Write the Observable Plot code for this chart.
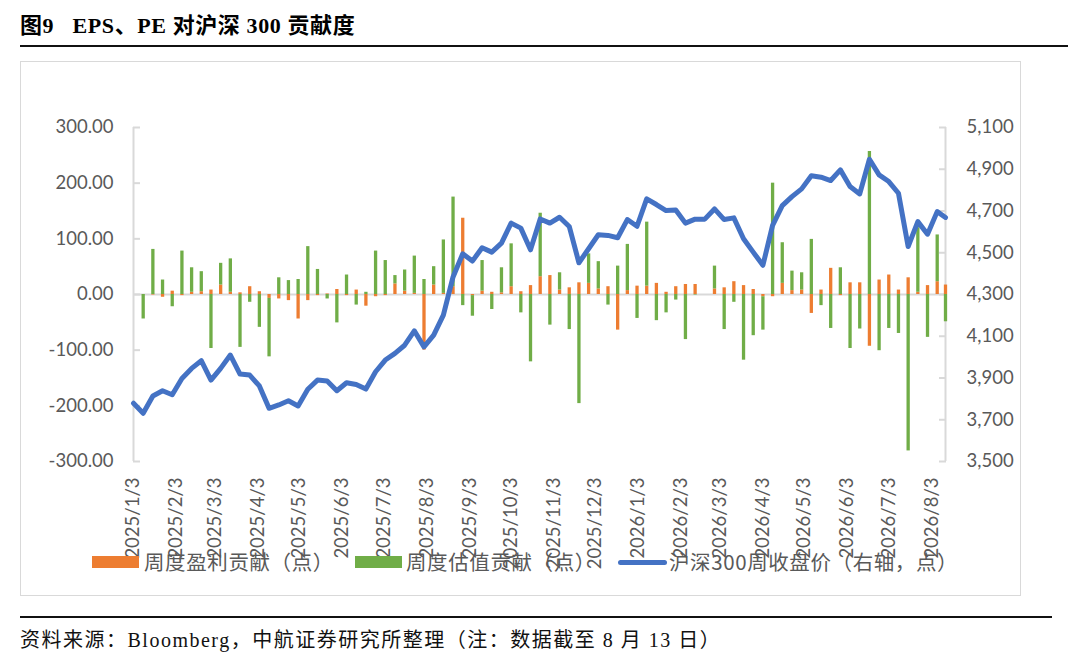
<!DOCTYPE html>
<html>
<head>
<meta charset="utf-8">
<script src="https://cdn.jsdelivr.net/npm/d3@7"></script>
<script src="https://cdn.jsdelivr.net/npm/@observablehq/plot@0.6"></script>
<style>
  body { margin: 0; background: #fff; }
  #page { position: relative; width: 1080px; height: 659px; overflow: hidden; background: #fff; }
  #title { position: absolute; left: 20px; top: 7px; font-family: "Liberation Serif", "Noto Sans CJK SC", serif; font-weight: bold; font-size: 22px; letter-spacing: 0.6px; color: #000; white-space: pre; }
  #rule-top { position: absolute; left: 20px; top: 45px; width: 1048px; height: 2px; background: #111; }
  #box { position: absolute; left: 20px; top: 61px; width: 1001px; height: 535px; box-sizing: border-box; border: 1.5px solid #d9d9d9; }
  #chart { position: absolute; left: 20px; top: 61px; }
  .leg { position: absolute; top: 548px; font-family: "Noto Sans CJK SC", sans-serif; font-size: 20.5px; letter-spacing: 0.6px; color: #595959; white-space: pre; line-height: 27px; }
  .sw { position: absolute; }
  #rule-bot { position: absolute; left: 20px; top: 616px; width: 1032px; height: 1.5px; background: #111; }
  #caption { position: absolute; left: 20px; top: 624px; font-family: "Liberation Serif", "Noto Sans CJK SC", serif; font-size: 20px; letter-spacing: 1.5px; color: #111; white-space: pre; }
</style>
</head>
<body>
<div id="page">
  <div id="title">图9   EPS、PE 对沪深 300 贡献度</div>
  <div id="rule-top"></div>
  <div id="box"></div>
  <div id="chart"></div>
  <div class="sw" style="left:92px;top:556px;width:47px;height:12px;background:#ED7D31"></div>
  <div class="leg" style="left:144px">周度盈利贡献（点）</div>
  <div class="sw" style="left:355px;top:556px;width:47px;height:12px;background:#70AD47"></div>
  <div class="leg" style="left:406px">周度估值贡献（点）</div>
  <div class="sw" style="left:618px;top:559.5px;width:49px;height:5px;background:#4472C4;border-radius:2.5px"></div>
  <div class="leg" style="left:669px">沪深300周收盘价（右轴，点）</div>
  <div id="rule-bot"></div>
  <div id="caption">资料来源：Bloomberg，中航证券研究所整理（注：数据截至 8 月 13 日）</div>
</div>
<script>
// ---- data ----
const dates = [
  "2025-01-03","2025-01-10","2025-01-17","2025-01-24","2025-01-31",
  "2025-02-07","2025-02-14","2025-02-21","2025-02-28",
  "2025-03-07","2025-03-14","2025-03-21","2025-03-28",
  "2025-04-04","2025-04-11","2025-04-18","2025-04-25",
  "2025-05-02","2025-05-09","2025-05-16","2025-05-23","2025-05-30",
  "2025-06-06","2025-06-13","2025-06-20","2025-06-27",
  "2025-07-04","2025-07-11","2025-07-18","2025-07-25",
  "2025-08-01","2025-08-08","2025-08-15","2025-08-22","2025-08-29",
  "2025-09-05","2025-09-12","2025-09-19","2025-09-26",
  "2025-10-03","2025-10-10","2025-10-17","2025-10-24","2025-10-31",
  "2025-11-07","2025-11-14","2025-11-21","2025-11-28",
  "2025-12-05","2025-12-12","2025-12-19","2025-12-26",
  "2026-01-02","2026-01-09","2026-01-16","2026-01-23","2026-01-30",
  "2026-02-06","2026-02-13","2026-02-20","2026-02-27",
  "2026-03-06","2026-03-13","2026-03-20","2026-03-27",
  "2026-04-03","2026-04-10","2026-04-17","2026-04-24",
  "2026-05-01","2026-05-08","2026-05-15","2026-05-22","2026-05-29",
  "2026-06-05","2026-06-12","2026-06-19","2026-06-26",
  "2026-07-03","2026-07-10","2026-07-17","2026-07-24","2026-07-31",
  "2026-08-07","2026-08-13"
];
// 周度盈利贡献（点）
const epsContrib = [
  0, 0, -1, -5, 6, -2, 4, 5, 8, 17,
  4, 3, 14, 5, -7, -8, -11, -44, -11, -2,
  1, 9, -2, 8, -21, -4, -2, 19, 6, 2,
  -100, 17, 2, 14, 137, -2, 6, 4, 3, 14,
  5, 16, 32, 34, 8, 12, 21, 20, 10, 14,
  -64, 7, 15, 15, 20, 4, 14, 18, 18, 0,
  10, 12, 23, 16, 9, -4, -4, 20, 7, 8,
  -34, 8, 47, -2, 21, 21, -93, 26, 35, 8,
  30, 4, 16, 23, 17
];
// 周度估值贡献（点）
const peContrib = [
  0, -44, 81, 26, -22, 78, 44, 36, -97, 39,
  60, -95, -14, -59, -105, 30, 25, 27, 86, 45,
  -8, -51, 35, -19, 4, 78, 61, 15, 38, 67,
  27, 33, 96, 161, -20, -37, 55, -27, 45, 77,
  -33, -121, 114, -55, 31, -63, -196, 53, 49, -19,
  51, 83, -43, 115, -47, -33, -10, -81, -1, 0,
  41, -63, -14, -118, -74, -60, 200, 73, 35, 31,
  99, -20, -61, 48, -97, -62, 257, -101, -61, -70,
  -281, 116, -77, 84, -49
];
// 沪深300周收盘价（右轴）
const csi300 = [
  3779, 3731, 3814, 3839, 3820, 3898, 3946, 3983, 3890, 3946,
  4010, 3919, 3914, 3862, 3755, 3771, 3791, 3766, 3846, 3890,
  3886, 3839, 3877, 3869, 3847, 3930, 3986, 4018, 4057, 4126,
  4049, 4105, 4201, 4384, 4495, 4460, 4524, 4503, 4546, 4642,
  4618, 4514, 4662, 4642, 4670, 4626, 4452, 4519, 4586, 4583,
  4572, 4659, 4627, 4758, 4731, 4702, 4705, 4642, 4661, 4661,
  4710, 4659, 4667, 4567, 4503, 4440, 4631, 4726, 4769, 4806,
  4869, 4862, 4846, 4897, 4817, 4782, 4948, 4873, 4841, 4785,
  4530, 4649, 4589, 4697, 4669
];
const leftTicks = [-300, -200, -100, 0, 100, 200, 300];
const rightTicks = [3500, 3700, 3900, 4100, 4300, 4500, 4700, 4900, 5100];
const xTickLabels = [
  "2025-01-03","2025-02-03","2025-03-03","2025-04-03","2025-05-03","2025-06-03",
  "2025-07-03","2025-08-03","2025-09-03","2025-10-03","2025-11-03","2025-12-03",
  "2026-01-03","2026-02-03","2026-03-03","2026-04-03","2026-05-03","2026-06-03",
  "2026-07-03","2026-08-03"
];
const seriesNames = ["周度盈利贡献（点）", "周度估值贡献（点）"];
const seriesColors = ["#ED7D31", "#70AD47"];

// ---- tables built from the arrays ----
const parse = d3.utcParse("%Y-%m-%d");
const D = dates.map(parse);
const bars = D.flatMap((d, i) => [
  {date: d, series: seriesNames[0], value: epsContrib[i]},
  {date: d, series: seriesNames[1], value: peContrib[i]}
]);
const closes = D.map((d, i) => ({date: d, close: csi300[i]}));

// right axis (3500–5100) mapped onto the left scale (-300–300)
const rMin = rightTicks[0], rMax = rightTicks[rightTicks.length - 1];
const lMin = leftTicks[0], lMax = leftTicks[leftTicks.length - 1];
const toLeft = v => lMin + (v - rMin) * (lMax - lMin) / (rMax - rMin);
const fromLeft = v => rMin + (v - lMin) * (rMax - rMin) / (lMax - lMin);

const x0 = D[0], x1 = D[D.length - 1];
const axisGray = "#d9d9d9";
const textGray = "#595959";

const chart = Plot.plot({
  width: 1001,
  height: 535,
  marginLeft: 113,
  marginRight: 76,
  marginTop: 66,
  marginBottom: 135,
  style: {fontFamily: "Lato, 'Liberation Sans', sans-serif", fontSize: "18.5px", color: textGray, background: "transparent", overflow: "visible"},
  x: {type: "utc", domain: [x0, x1]},
  y: {domain: [lMin, lMax]},
  color: {domain: seriesNames, range: seriesColors},
  marks: [
    Plot.ruleY([0], {stroke: axisGray, strokeWidth: 2}),
    Plot.ruleX([x0], {y1: lMin, y2: lMax, stroke: axisGray, strokeWidth: 2}),
    Plot.ruleX([x1], {y1: lMin, y2: lMax, stroke: axisGray, strokeWidth: 2}),
    Plot.axisY({ticks: leftTicks, tickFormat: d => d.toFixed(2), tickSize: -7, tickPadding: 27, stroke: axisGray, strokeWidth: 2, fill: textGray, label: null}),
    Plot.axisY({anchor: "right", ticks: rightTicks.map(toLeft), tickFormat: d => d3.format(",")(Math.round(fromLeft(d))), tickSize: -7, tickPadding: 28, stroke: axisGray, strokeWidth: 2, fill: textGray, label: null}),
    Plot.axisX({ticks: xTickLabels.map(parse), tickFormat: d => `${d.getUTCFullYear()}/${d.getUTCMonth() + 1}/${d.getUTCDate()}`, tickRotate: -90, tickSize: 0, tickPadding: 16, fill: textGray, label: null}),
    Plot.ruleX(bars, Plot.stackY({x: "date", y: "value", z: "series", stroke: "series", strokeWidth: 3.3})),
    Plot.line(closes, {x: "date", y: d => toLeft(d.close), stroke: "#4472C4", strokeWidth: 5, strokeLinejoin: "round", strokeLinecap: "round"})
  ]
});
document.getElementById("chart").appendChild(chart);
</script>
</body>
</html>
